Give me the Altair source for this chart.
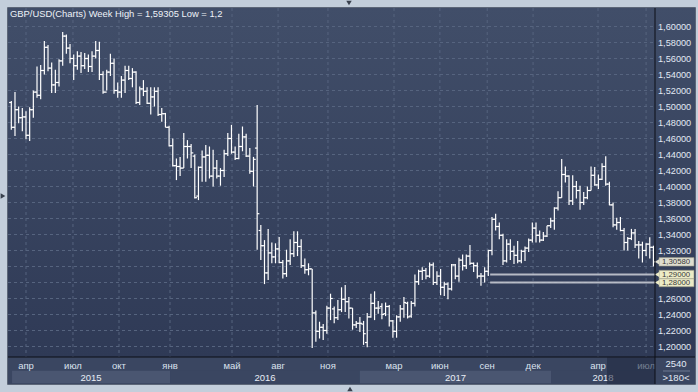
import altair as alt
import pandas as pd

# ---------------- data (weekly GBP/USD bars) ----------------
open_ = [1.505,1.474,1.496,1.486,1.487,1.464,1.496,1.518,1.514,1.545,
         1.574,1.548,1.527,1.530,1.557,1.588,1.573,1.560,1.551,1.563,
         1.551,1.560,1.550,1.563,1.570,1.540,1.518,1.543,1.554,1.520,
         1.518,1.533,1.545,1.535,1.543,1.505,1.522,1.519,1.504,1.512,
         1.519,1.490,1.491,1.474,
         1.451,1.426,1.425,1.423,1.450,1.450,1.438,1.388,1.424,1.437,
         1.439,1.413,1.423,1.413,1.420,1.441,1.460,1.443,1.435,1.450,
         1.462,1.438,1.419,1.448,1.345,1.326,1.292,1.317,1.312,1.322,
         1.305,1.291,1.307,1.316,1.330,1.325,1.301,1.296,1.297,1.242,
         1.219,1.224,1.220,1.248,
         1.247,1.236,1.246,1.259,1.256,1.248,1.227,1.229,1.228,1.205,
         1.237,1.254,1.248,1.250,1.241,1.250,1.232,1.219,1.237,1.247,
         1.254,1.238,1.254,1.281,1.294,1.295,1.288,1.302,1.280,1.288,
         1.274,1.278,1.272,1.302,1.288,1.308,1.301,1.313,1.304,1.301,
         1.288,1.288,1.294,1.320,
         1.359,1.350,1.339,1.307,1.328,1.319,1.314,1.307,1.319,1.323,
         1.333,1.348,1.339,1.333,1.338,1.351,1.357,1.373,1.386,1.415,
         1.413,1.382,1.400,1.395,1.380,1.386,1.395,1.414,1.402,1.409,
         1.425,1.403,1.377,1.352,1.355,1.345,1.330,1.335,1.342,1.327,
         1.327,1.320,1.328,1.324]
high_ = [1.507,1.518,1.500,1.498,1.494,1.499,1.520,1.550,1.552,1.582,
         1.577,1.555,1.546,1.559,1.593,1.590,1.578,1.565,1.569,1.568,
         1.567,1.565,1.569,1.582,1.581,1.544,1.546,1.566,1.560,1.530,
         1.538,1.551,1.551,1.548,1.544,1.525,1.533,1.524,1.524,1.524,
         1.524,1.498,1.492,1.476,
         1.460,1.435,1.437,1.467,1.458,1.453,1.440,1.425,1.445,1.452,
         1.450,1.446,1.433,1.423,1.446,1.467,1.477,1.450,1.466,1.475,
         1.466,1.448,1.437,1.502,1.352,1.333,1.347,1.330,1.329,1.337,
         1.308,1.321,1.334,1.344,1.344,1.334,1.310,1.304,1.297,1.245,
         1.231,1.228,1.251,1.266,
         1.250,1.258,1.274,1.277,1.262,1.248,1.232,1.237,1.232,1.242,
         1.266,1.269,1.257,1.254,1.255,1.252,1.233,1.239,1.252,1.262,
         1.256,1.257,1.290,1.296,1.299,1.298,1.305,1.305,1.294,1.297,
         1.281,1.280,1.303,1.303,1.311,1.315,1.315,1.327,1.305,1.305,
         1.292,1.299,1.321,1.362,
         1.366,1.355,1.341,1.334,1.334,1.326,1.332,1.321,1.325,1.335,
         1.355,1.355,1.345,1.343,1.351,1.361,1.374,1.394,1.4345,1.425,
         1.414,1.414,1.407,1.401,1.393,1.400,1.425,1.4245,1.415,1.429,
         1.4377,1.406,1.380,1.361,1.362,1.348,1.337,1.347,1.347,1.332,
         1.331,1.329,1.3365,1.326]
low_ = [1.471,1.463,1.479,1.469,1.459,1.457,1.486,1.511,1.509,1.540,
        1.544,1.517,1.517,1.525,1.551,1.566,1.554,1.533,1.546,1.542,
        1.547,1.543,1.543,1.560,1.533,1.516,1.520,1.538,1.516,1.511,
        1.511,1.517,1.533,1.524,1.503,1.502,1.513,1.503,1.490,1.500,
        1.488,1.481,1.474,1.450,
        1.425,1.408,1.413,1.423,1.435,1.423,1.385,1.383,1.406,1.406,
        1.410,1.400,1.410,1.401,1.412,1.438,1.441,1.433,1.434,1.444,
        1.437,1.416,1.400,1.321,1.308,1.278,1.283,1.304,1.304,1.304,
        1.285,1.287,1.302,1.312,1.313,1.298,1.291,1.289,1.198,1.206,
        1.210,1.208,1.216,1.233,
        1.229,1.233,1.243,1.243,1.235,1.221,1.223,1.218,1.202,1.199,
        1.236,1.233,1.241,1.234,1.238,1.225,1.211,1.211,1.231,1.236,
        1.235,1.236,1.250,1.277,1.283,1.284,1.286,1.277,1.277,1.264,
        1.263,1.259,1.270,1.284,1.281,1.295,1.297,1.302,1.293,1.285,
        1.276,1.280,1.288,1.314,
        1.345,1.334,1.302,1.305,1.308,1.303,1.304,1.304,1.307,1.318,
        1.330,1.330,1.330,1.332,1.337,1.348,1.346,1.370,1.386,1.405,
        1.377,1.377,1.385,1.371,1.377,1.384,1.395,1.401,1.397,1.408,
        1.401,1.3765,1.349,1.346,1.344,1.320,1.320,1.333,1.323,1.310,
        1.305,1.313,1.310,1.300]
close_ = [1.474,1.496,1.486,1.487,1.464,1.496,1.518,1.514,1.545,1.574,
          1.548,1.527,1.530,1.557,1.588,1.573,1.560,1.551,1.563,1.551,
          1.560,1.550,1.563,1.570,1.540,1.518,1.543,1.554,1.520,1.518,
          1.533,1.545,1.535,1.543,1.505,1.522,1.519,1.504,1.512,1.519,
          1.490,1.491,1.474,1.451,
          1.426,1.425,1.423,1.450,1.450,1.442,1.386,1.424,1.437,1.439,
          1.413,1.423,1.413,1.420,1.441,1.460,1.443,1.435,1.450,1.462,
          1.438,1.419,1.434,1.366,1.326,1.292,1.317,1.312,1.322,1.305,
          1.291,1.307,1.316,1.330,1.325,1.301,1.296,1.297,1.242,1.219,
          1.224,1.220,1.248,1.260,
          1.236,1.246,1.259,1.256,1.248,1.227,1.229,1.229,1.216,1.237,
          1.254,1.248,1.248,1.240,1.250,1.232,1.219,1.237,1.247,1.255,
          1.237,1.254,1.281,1.294,1.295,1.288,1.302,1.280,1.288,1.274,
          1.278,1.272,1.302,1.288,1.308,1.301,1.313,1.304,1.301,1.288,
          1.288,1.294,1.320,1.359,
          1.350,1.339,1.307,1.328,1.319,1.314,1.307,1.319,1.323,1.333,
          1.348,1.339,1.333,1.338,1.351,1.357,1.373,1.386,1.415,1.413,
          1.382,1.400,1.395,1.380,1.386,1.395,1.414,1.402,1.409,1.425,
          1.403,1.377,1.352,1.355,1.345,1.330,1.335,1.342,1.327,1.327,
          1.320,1.328,1.324,1.3058]

month_labels = ["апр", "июл", "окт", "янв", "май", "авг", "ноя",
                "мар", "июн", "сен", "дек", "апр", "июл"]
month_pos = [4.0, 16.8, 29.35, 43.25, 60.15, 72.7, 86.3,
             104.3, 116.8, 129.7, 142.2, 159.9, 173.0]
years = ["2015", "2016", "2017", "2018"]
year_start = [0.2, 43.25, 95.0, 147.1]
year_end = [43.25, 95.0, 147.1, 175.43]
year_shade = ["#4a5671", "#3a4661", "#4a5671", "#3a4661"]
y_ticks = [1.20, 1.22, 1.24, 1.26, 1.28, 1.30, 1.32, 1.34, 1.36, 1.38, 1.40,
           1.42, 1.44, 1.46, 1.48, 1.50, 1.52, 1.54, 1.56, 1.58, 1.60]
alert_levels = [1.28, 1.29]
alert_start = 130.5
last_price = 1.3058

title_text = "GBP/USD(Charts) Week High = 1,59305 Low = 1,2"

# ---------------- layout ----------------
W, H = 647, 349
XDOM = [-0.905, 175.43]
YDOM = [1.186875, 1.623125]
FONT = "Liberation Sans"
GRID = "#56647f"
xs = alt.Scale(domain=XDOM, nice=False, zero=False)
ys = alt.Scale(domain=YDOM, nice=False, zero=False)


def fmt(p):
    return f"{p:.5f}".replace(".", ",")


n = len(open_)
df = pd.DataFrame({"i": list(range(n)), "open": open_, "high": high_,
                   "low": low_, "close": close_})
df["ol"] = df["i"] - 0.6
df["cr"] = df["i"] + 0.6

tag_prices = alert_levels + [last_price]
df_yt = pd.DataFrame({"v": y_ticks})
df_yl = pd.DataFrame({"v": [t for t in y_ticks
                            if all(abs(t - p) > 0.008 for p in tag_prices)]})
df_yl["label"] = [fmt(v) for v in df_yl["v"]]
df_m = pd.DataFrame({"pos": month_pos, "label": month_labels})
df_y = pd.DataFrame({"label": years, "start": year_start, "end": year_end,
                     "shade": year_shade})
df_y["mid"] = (df_y["start"] + df_y["end"]) / 2
df_alert = pd.DataFrame({"level": alert_levels, "start": alert_start,
                         "end": XDOM[1]})
df_tag = pd.DataFrame({"price": tag_prices,
                       "label": [fmt(p) for p in tag_prices],
                       "fill": ["#ecebc6", "#ecebc6", "#deddcf"]})
df_tag["top"] = df_tag["price"] + 0.0053
df_tag["bot"] = df_tag["price"] - 0.0053

one = alt.Chart(pd.DataFrame({"k": [0]}))

bg = one.mark_rect(fill=alt.Gradient(
    gradient="linear", x1=0, y1=0, x2=0, y2=1,
    stops=[alt.GradientStop(color="#414e69", offset=0),
           alt.GradientStop(color="#2f3a56", offset=1)])).encode(
    x=alt.value(0), x2=alt.value(687), y=alt.value(0), y2=alt.value(349))

bottom_bg = one.mark_rect(fill="#3a4661").encode(
    x=alt.value(0), x2=alt.value(687), y=alt.value(349), y2=alt.value(376))

year_band = alt.Chart(df_y).mark_rect().encode(
    x=alt.X("start:Q", scale=xs, axis=None), x2="end:Q",
    y=alt.value(362.7), y2=alt.value(375.3),
    fill=alt.Fill("shade:N", scale=None))

vgrid = alt.Chart(df_m).mark_rule(color=GRID, strokeDash=[3, 3], strokeWidth=1).encode(
    x=alt.X("pos:Q", scale=xs, axis=None), y=alt.value(0), y2=alt.value(349))
hgrid = alt.Chart(df_yt).mark_rule(color=GRID, strokeDash=[3, 3], strokeWidth=1).encode(
    y=alt.Y("v:Q", scale=ys, axis=None), x=alt.value(0), x2=alt.value(647))

hl = alt.Chart(df).mark_rule(color="white", strokeWidth=1.2).encode(
    x=alt.X("i:Q", scale=xs, axis=None),
    y=alt.Y("low:Q", scale=ys, axis=None), y2="high:Q")
op = alt.Chart(df).mark_rule(color="white", strokeWidth=1.2).encode(
    x=alt.X("ol:Q", scale=xs, axis=None), x2="i:Q",
    y=alt.Y("open:Q", scale=ys, axis=None))
cl = alt.Chart(df).mark_rule(color="white", strokeWidth=1.2).encode(
    x=alt.X("i:Q", scale=xs, axis=None), x2="cr:Q",
    y=alt.Y("close:Q", scale=ys, axis=None))

alerts = alt.Chart(df_alert).mark_rule(color="#c4c8d0", strokeWidth=2, opacity=0.9).encode(
    x=alt.X("start:Q", scale=xs, axis=None), x2="end:Q",
    y=alt.Y("level:Q", scale=ys, axis=None))

month_text = alt.Chart(df_m).mark_text(font=FONT, fontSize=9.5, color="#dbe2ee",
                                       baseline="middle", align="center").encode(
    x=alt.X("pos:Q", scale=xs, axis=None), y=alt.value(358), text="label:N")
year_text = alt.Chart(df_y).mark_text(font=FONT, fontSize=9.5, color="#e8edf5",
                                      baseline="middle", align="center").encode(
    x=alt.X("mid:Q", scale=xs, axis=None), y=alt.value(369.5), text="label:N")

dark = one.mark_rect(fill="#1f2840", opacity=0.55).encode(
    x=alt.value(599), x2=alt.value(647), y=alt.value(349.5), y2=alt.value(376))

ylab = alt.Chart(df_yl).mark_text(font=FONT, fontSize=9.2, color="#e2e9f4",
                                  baseline="middle", align="left").encode(
    y=alt.Y("v:Q", scale=ys, axis=None), x=alt.value(650), text="label:N")

tag_rect = alt.Chart(df_tag).mark_rect(stroke="#8e8e80", strokeWidth=0.6).encode(
    y=alt.Y("top:Q", scale=ys, axis=None), y2="bot:Q",
    x=alt.value(651), x2=alt.value(686), fill=alt.Fill("fill:N", scale=None))
tag_arrow = alt.Chart(df_tag).mark_point(shape="triangle-left", filled=True,
                                         size=26, opacity=1).encode(
    y=alt.Y("price:Q", scale=ys, axis=None), x=alt.value(649),
    fill=alt.Fill("fill:N", scale=None))
tag_text = alt.Chart(df_tag).mark_text(font=FONT, fontSize=7.8, color="#3a3a3a",
                                       baseline="middle", align="left").encode(
    y=alt.Y("price:Q", scale=ys, axis=None), x=alt.value(654), text="label:N")

vline = one.mark_rule(color="#0c0f16", strokeWidth=1).encode(
    x=alt.value(647), y=alt.value(0), y2=alt.value(376))
hline = one.mark_rule(color="#0c0f16", strokeWidth=1).encode(
    x=alt.value(0), x2=alt.value(687), y=alt.value(349))

title = one.mark_text(font=FONT, fontSize=9.4, color="#eef2f8", align="left",
                      baseline="middle").encode(
    x=alt.value(2), y=alt.value(6), text=alt.value(title_text))

box_a = one.mark_text(font=FONT, fontSize=9.5, color="#e2e9f4", align="center",
                      baseline="middle").encode(
    x=alt.value(668), y=alt.value(356), text=alt.value("2540"))
box_b = one.mark_text(font=FONT, fontSize=9.5, color="#e2e9f4", align="center",
                      baseline="middle").encode(
    x=alt.value(668), y=alt.value(370), text=alt.value(">180<"))
box_sep = one.mark_rule(color="#6c7892", strokeWidth=1).encode(
    x=alt.value(655), x2=alt.value(682), y=alt.value(363))

frame = one.mark_rect(fill=None, stroke="#5d6778", strokeWidth=1).encode(
    x=alt.value(-0.5), x2=alt.value(687.5), y=alt.value(-0.5), y2=alt.value(376.5))
tri_top = one.mark_point(shape="triangle-down", filled=True, size=30,
                         color="#39414e", opacity=1).encode(
    x=alt.value(341), y=alt.value(-5))
tri_left = one.mark_point(shape="triangle-right", filled=True, size=30,
                          color="#39414e", opacity=1).encode(
    x=alt.value(-5), y=alt.value(188))
tri_bot = one.mark_point(shape="triangle-up", filled=True, size=30,
                         color="#39414e", opacity=1).encode(
    x=alt.value(342), y=alt.value(381))

chart = alt.layer(
    bg, bottom_bg, year_band, vgrid, hgrid, hl, op, cl, alerts,
    month_text, year_text, dark, ylab, tag_rect, tag_arrow, tag_text,
    vline, hline, title, box_a, box_b, box_sep, frame, tri_top, tri_left, tri_bot
).properties(
    width=W, height=H,
    padding={"left": 8, "top": 8, "right": 43, "bottom": 35},
    autosize=alt.AutoSizeParams(type="none"),
    background="#c3cedb",
).configure_view(stroke=None)

chart.save("out.html", embed_options={"renderer": "svg", "actions": False})
